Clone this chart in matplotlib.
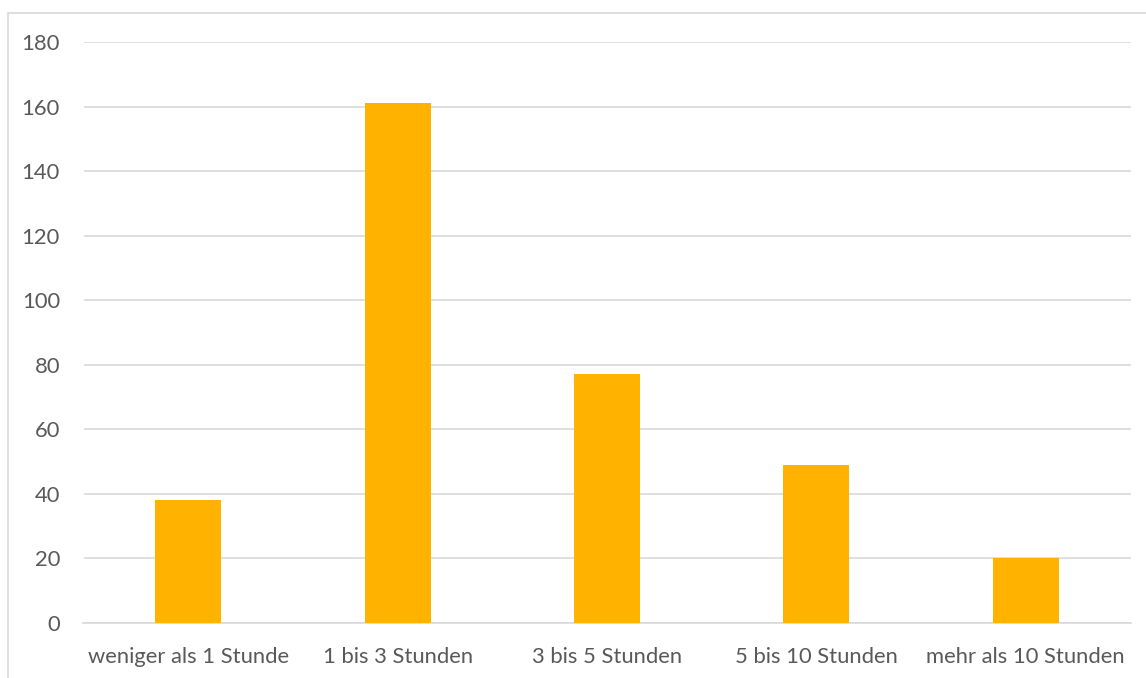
import matplotlib

matplotlib.use("Agg")
import matplotlib.pyplot as plt
from matplotlib.patches import Rectangle

CATEGORIES = [
    "weniger als 1 Stunde",
    "1 bis 3 Stunden",
    "3 bis 5 Stunden",
    "5 bis 10 Stunden",
    "mehr als 10 Stunden",
]
VALUES = [38, 161, 77, 49, 20]
Y_TICKS = list(range(0, 181, 20))

W, H = 1146, 678
TEXT = "#595959"
GRID = "#d9d9d9"
BAR = "#ffb300"


def main() -> None:
    plt.rcParams["font.family"] = ["Lato", "DejaVu Sans"]
    fig = plt.figure(figsize=(W / 100, H / 100), dpi=100)
    ax = fig.add_axes([83.5 / W, 1 - 623 / H, (1130.5 - 83.5) / W, (623 - 42) / H])

    # light frame around the chart area, cut off at right and bottom
    fig.patches.append(
        Rectangle((8 / W, -0.05), 1.1, 1 - 13 / H + 0.05, transform=fig.transFigure,
                  fill=False, edgecolor=GRID, linewidth=1.2)
    )

    x = list(range(len(CATEGORIES)))
    ax.bar(x, VALUES, width=0.315, color=BAR, zorder=3)
    ax.set_xlim(-0.5, len(CATEGORIES) - 0.5)
    ax.set_ylim(0, 180)
    ax.set_yticks(Y_TICKS)
    ax.set_xticks(x)
    ax.set_xticklabels(CATEGORIES)
    ax.grid(axis="y", color=GRID, linewidth=1.2, zorder=0)
    for side in ("top", "right", "left"):
        ax.spines[side].set_visible(False)
    ax.spines["bottom"].set_color(GRID)
    ax.spines["bottom"].set_linewidth(1.2)
    ax.tick_params(axis="both", length=0, labelsize=15.8, colors=TEXT)
    ax.tick_params(axis="x", pad=17)
    ax.tick_params(axis="y", pad=17)

    fig.savefig("out.png", dpi=100)
    plt.close(fig)


if __name__ == "__main__":
    main()
